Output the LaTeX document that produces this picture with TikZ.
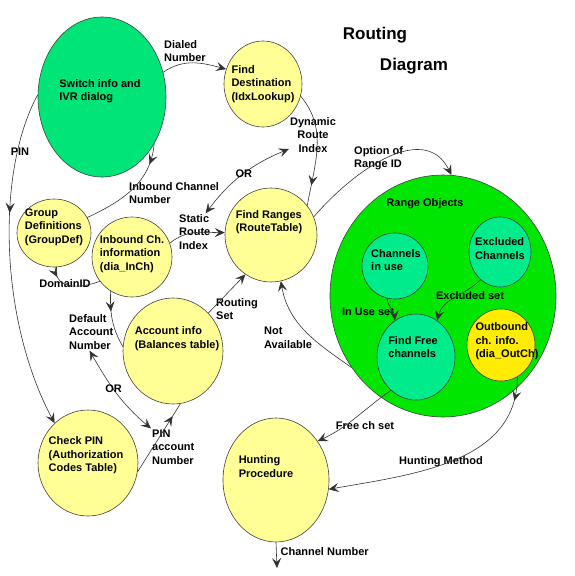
\documentclass[tikz,border=0pt]{standalone}
\usepackage{fontspec}
\setmainfont{Liberation Sans}
\usepackage{tikz}
\definecolor{switchgreen}{RGB}{0,228,120}
\definecolor{rangegreen}{RGB}{0,230,0}
\definecolor{seagreen}{RGB}{0,236,140}
\definecolor{paleyellow}{RGB}{255,255,150}
\definecolor{outyellow}{RGB}{255,236,0}
\definecolor{wire}{RGB}{50,50,50}
\usetikzlibrary{shapes.geometric, arrows.meta, decorations.markings}
\newcommand{\lblfont}{\fontsize{11}{13.5}\selectfont\bfseries}

\begin{document}
\begin{tikzpicture}[
    x=1pt, y=1pt,
    >={Stealth[length=10pt, width=9pt, inset=4pt]},
    ball/.style={ellipse, draw=black!75, line width=0.6pt, inner sep=0pt},
    yball/.style={ball, fill=paleyellow},
    gball/.style={ball, fill=seagreen},
    txt/.style={font=\lblfont, align=left, inner sep=0pt},
    lbl/.style={font=\lblfont, align=left, inner sep=1pt},
    flow/.style={draw=wire, line width=0.6pt},
    tipat/.style={postaction={decorate}, decoration={markings,
                  mark=at position #1 with {\arrow{>}}}}
]
    \useasboundingbox (0,0) rectangle (575,-576);

    % Title
    \node[font=\fontsize{17}{20}\selectfont\bfseries] (title1) at (375,-35) {Routing};
    \node[font=\fontsize{17}{20}\selectfont\bfseries] (title2) at (414,-66) {Diagram};

    % Nodes
    \node[ball, fill=switchgreen, minimum width=128pt, minimum height=160pt] (sw) at (102,-97) {};
    \node[yball, minimum width=78pt, minimum height=86pt] (dest) at (263,-84) {};
    \node[yball, minimum width=74pt, minimum height=68pt] (grp) at (54,-233) {};
    \node[yball, minimum width=80pt, minimum height=80pt] (inb) at (132,-257) {};
    \node[yball, minimum width=92pt, minimum height=94pt] (rng) at (271,-235) {};
    \node[yball, minimum width=100pt, minimum height=106pt] (acct) at (173,-351) {};
    \node[yball, minimum width=100pt, minimum height=106pt] (pin) at (88,-463) {};
    \node[yball, minimum width=106pt, minimum height=124pt] (hunt) at (276,-480) {};
    \node[ball, fill=rangegreen, minimum width=226pt, minimum height=242pt] (robj) at (443,-296) {};
    \node[gball, minimum width=66pt, minimum height=66pt] (inuse) at (395,-266) {};
    \node[gball, minimum width=62pt, minimum height=70pt] (excl) at (500,-252) {};
    \node[gball, minimum width=78pt, minimum height=86pt] (free) at (416,-357) {};
    \node[ball, fill=outyellow, minimum width=68pt, minimum height=72pt] (outb) at (501,-345) {};

    % Node texts
    \node[txt] (swtxt) at ([shift={(-2,6)}]sw) {Switch info and\\IVR dialog};
    \node[txt] (desttxt) at (dest) {Find\\Destination\\(IdxLookup)};
    \node[txt] (grptxt) at ([shift={(0,6)}]grp) {Group\\Definitions\\(GroupDef)};
    \node[txt] (inbtxt) at ([shift={(0,3)}]inb) {Inbound Ch.\\information\\(dia\_InCh)};
    \node[txt] (rngtxt) at ([shift={(-2,13)}]rng) {Find Ranges\\(RouteTable)};
    \node[txt] (accttxt) at ([shift={(4,12.5)}]acct) {Account info\\(Balances table)};
    \node[txt] (pintxt) at ([shift={(-2,7.5)}]pin) {Check PIN\\(Authorization\\Codes Table)};
    \node[txt] (hunttxt) at ([shift={(-10,13.5)}]hunt) {Hunting\\Procedure};
    \node[txt] (robjtxt) at ([shift={(-18,92)}]robj) {Range Objects};
    \node[txt] (inusetxt) at ([shift={(1,6)}]inuse) {Channels\\in use};
    \node[txt] (excltxt) at ([shift={(0,3.5)}]excl) {Excluded\\Channels};
    \node[txt] (freetxt) at ([shift={(-3,10)}]free) {Find Free\\channels};
    \node[txt] (outbtxt) at ([shift={(6,3.5)}]outb) {Outbound\\ch. info.\\(dia\_OutCh)};

    % Edge labels
    \node[lbl, anchor=west] (dialed) at (163,-51) {Dialed\\Number};
    \node[lbl] (pinword) at (20,-152) {PIN};
    \node[lbl, anchor=west] (inbnum) at (128,-193) {Inbound Channel\\Number};
    \node[lbl, align=center] (dyn) at (313,-135) {Dynamic\\Route\\Index};
    \node[lbl, anchor=west] (stat) at (178,-232) {Static\\Route\\Index};
    \node[lbl, anchor=west] (option) at (353,-158) {Option of\\Range ID};
    \node[lbl] (domain) at (65,-284) {DomainID};
    \node[lbl, anchor=west] (deflbl) at (68,-332) {Default\\Account\\Number};
    \node[lbl, anchor=west] (routing) at (215,-309) {Routing\\Set};
    \node[lbl, anchor=west] (notav) at (263,-338) {Not\\Available};
    \node[lbl, anchor=west] (pinlbl) at (151,-447) {PIN\\account\\Number};
    \node[lbl] (exset) at (470,-296) {Excluded set};
    \node[lbl] (useset) at (368,-312) {In Use set};
    \node[lbl] (freeset) at (365,-426) {Free ch set};
    \node[lbl] (huntm) at (441,-462) {Hunting Method};

    % Connecting lines
    \draw[flow, ->] (sw.22) to[out=35, in=165] (dest.158);
    \draw[flow, tipat=0.82] (dest.-18) to[out=-50, in=80] (rng.39);
    \draw[flow, tipat=0.2] (sw.-42) to[out=-95, in=25] (grp.25);
    \draw[flow, ->, tipat=0.36] (sw.178) .. controls +(-42,-77) and +(-55,103) .. (pin.130);
    \draw[flow, tipat=0.18] (grp.-88) .. controls +(0,-25) and +(-15,-6) .. (inb.217);
    \draw[flow, ->] (inb.20) to[out=40, in=180] (rng.177);
    \draw[flow, <->] (stat.60) to[bend left=15] node[lbl, pos=0.52] (ortop) {OR} (dyn.210);
    \draw[flow, ->] (rng.23) .. controls +(43,50) and +(-26,53) .. (robj.86);
    \draw[flow, tipat=0.35] (inb.238) to[out=-92, in=120] (acct.175);
    \draw[flow, <->] (deflbl.265) to[out=-60, in=140] node[lbl, pos=0.45] (orlow) {OR} (pinlbl.north west);
    \draw[flow, tipat=0.82] (pin.-10) -- (acct.-82);
    \draw[flow, ->] (acct.47) -- (rng.237);
    \draw[flow, ->] (robj.218) to[out=145, in=-80] (rng.-78);
    \draw[flow, ->] (inuse.256) to[out=-80, in=95] (free.120);
    \draw[flow, ->] (excl.235) to[out=225, in=75] (free.60);
    \draw[flow, ->] (free.233) to[out=215, in=25] (hunt.43);
    \draw[flow, ->, tipat=0.1] (outb.297) to[out=-90, in=10] (hunt.-10);
    \coordinate (chout) at (277,-568);
    \draw[flow, ->] (hunt.south) -- node[lbl, right, pos=0.35, xshift=3pt] (chnum) {Channel Number} (chout);
\end{tikzpicture}
\end{document}
